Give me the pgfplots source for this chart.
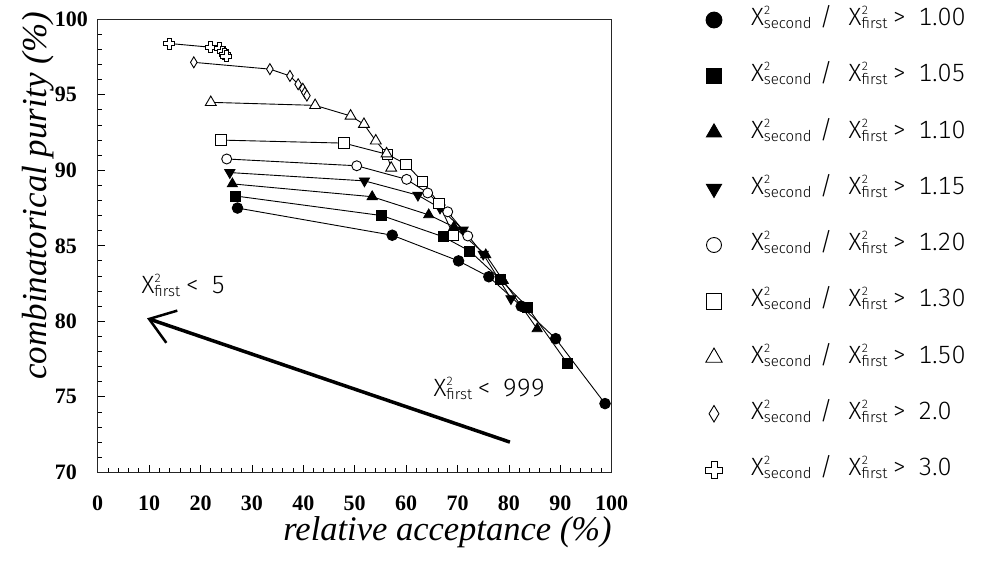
\documentclass[border=0pt]{standalone}
\usepackage{pgfplots}
\pgfplotsset{compat=1.18}
\usepackage{fontspec}
\setmainfont{Liberation Serif}
\newfontfamily\higz{Fira Sans Light}[Numbers=Monospaced]
\usetikzlibrary{arrows.meta}
\pgfdeclareplotmark{ocross}{%
  \pgfpathmoveto{\pgfqpoint{-0.36\pgfplotmarksize}{\pgfplotmarksize}}%
  \pgfpathlineto{\pgfqpoint{0.36\pgfplotmarksize}{\pgfplotmarksize}}%
  \pgfpathlineto{\pgfqpoint{0.36\pgfplotmarksize}{0.36\pgfplotmarksize}}%
  \pgfpathlineto{\pgfqpoint{\pgfplotmarksize}{0.36\pgfplotmarksize}}%
  \pgfpathlineto{\pgfqpoint{\pgfplotmarksize}{-0.36\pgfplotmarksize}}%
  \pgfpathlineto{\pgfqpoint{0.36\pgfplotmarksize}{-0.36\pgfplotmarksize}}%
  \pgfpathlineto{\pgfqpoint{0.36\pgfplotmarksize}{-\pgfplotmarksize}}%
  \pgfpathlineto{\pgfqpoint{-0.36\pgfplotmarksize}{-\pgfplotmarksize}}%
  \pgfpathlineto{\pgfqpoint{-0.36\pgfplotmarksize}{-0.36\pgfplotmarksize}}%
  \pgfpathlineto{\pgfqpoint{-\pgfplotmarksize}{-0.36\pgfplotmarksize}}%
  \pgfpathlineto{\pgfqpoint{-\pgfplotmarksize}{0.36\pgfplotmarksize}}%
  \pgfpathlineto{\pgfqpoint{-0.36\pgfplotmarksize}{0.36\pgfplotmarksize}}%
  \pgfpathclose
  \pgfusepathqfillstroke}
\pgfdeclareplotmark{odiamond}{%
  \pgfpathmoveto{\pgfqpoint{0pt}{\pgfplotmarksize}}%
  \pgfpathlineto{\pgfqpoint{0.6\pgfplotmarksize}{0pt}}%
  \pgfpathlineto{\pgfqpoint{0pt}{-\pgfplotmarksize}}%
  \pgfpathlineto{\pgfqpoint{-0.6\pgfplotmarksize}{0pt}}%
  \pgfpathclose
  \pgfusepathqfillstroke}
\newcommand\mainf{\higz\fontsize{25bp}{28bp}\selectfont}
\newcommand\subf{\higz\fontsize{15bp}{15bp}\selectfont}
\newcommand\supf{\higz\fontsize{12bp}{12bp}\selectfont}
\newcommand\XX[1]{X\rlap{\raisebox{11bp}{\supf 2}}\raisebox{-3bp}{\subf #1}}
\newcommand\rat[1]{\XX{second}\hspace{8bp}/\hspace{16bp}\XX{first}\hspace{5bp}>\hspace{12bp}#1}
\begin{document}
\begin{tikzpicture}
\begin{axis}[
  name=ax,
  scale only axis, width=514bp, height=453bp,
  xmin=0, xmax=100, ymin=70, ymax=100,
  xtick={0,10,...,100}, ytick={70,75,...,100},
  minor x tick num=4, minor y tick num=4,
  tick pos=left, tick align=inside,
  major tick length=7bp, minor tick length=4bp,
  axis line style={line width=1.2bp, black!85},
  tick style={line width=0.8bp, black},
  /pgf/number format/assume math mode=true,
  ticklabel style={font=\bfseries\fontsize{22bp}{22bp}\selectfont},
  xticklabel style={anchor=north, inner sep=0pt, yshift=-23bp},
  yticklabel style={anchor=west, inner sep=0pt, xshift=-43bp},
  xlabel={relative acceptance (\%)},
  ylabel={combinatorical purity (\%)},
  every axis x label/.style={at={(axis description cs:1,-0.1318)}, anchor=east, inner sep=0pt, font=\fontsize{34.5bp}{40bp}\selectfont\itshape},
  every axis y label/.style={at={(axis description cs:-0.11615,1.0161)}, rotate=90, anchor=east, inner sep=0pt, font=\fontsize{35bp}{40bp}\selectfont\itshape},
  legend image code/.code={\path[draw=none,fill=none] (-9bp,-9bp) rectangle (9bp,9bp); \draw[/tikz/every mark/.append style={scale=1.5}] plot[only marks] coordinates {(0bp,0bp)};},
  legend cell align=left,
  legend style={at={(axis description cs:1.18152,1.02384)}, anchor=north west, draw=none, fill=none, inner sep=0pt, outer sep=0pt, row sep=33.25bp, column sep=28bp, font=\mainf, nodes={inner sep=0pt, text height=17bp, text depth=6bp}},
]
\addplot[black, line width=0.9bp, mark=*, mark size=5.3bp, mark options={fill=black, draw=black, solid}] coordinates {
 (27.2,87.5) (57.3,85.7) (70.2,84.0) (76.1,82.95) (82.4,81.0) (89.1,78.85) (98.7,74.55)};
\addlegendentry{\rat{1.00}}
\addplot[black, line width=0.9bp, mark=square*, mark size=5.0bp, mark options={fill=black, draw=black, solid}] coordinates {
 (26.8,88.3) (55.3,87.0) (67.2,85.6) (72.4,84.65) (78.4,82.75) (83.7,80.9) (91.4,77.2)};
\addlegendentry{\rat{1.05}}
\addplot[black, line width=0.9bp, mark=triangle*, mark size=5.8bp, mark options={fill=black, draw=black, solid}] coordinates {
 (26.2,89.1) (53.4,88.25) (64.4,87.05) (69.3,86.25) (75.5,84.4) (78.9,82.7) (85.5,79.5)};
\addlegendentry{\rat{1.10}}
\addplot[black, line width=0.9bp, mark=triangle*, mark size=5.8bp, mark options={fill=black, draw=black, solid, rotate=180}] coordinates {
 (25.7,89.85) (51.9,89.3) (62.3,88.35) (66.6,87.5) (71.1,86.05) (75.0,84.45) (80.4,81.5)};
\addlegendentry{\rat{1.15}}
\addplot[black, line width=0.9bp, mark=*, mark size=5.0bp, mark options={fill=white, draw=black, solid}] coordinates {
 (25.1,90.75) (50.4,90.3) (60.1,89.4) (64.2,88.5) (68.1,87.25) (72.0,85.65)};
\addlegendentry{\rat{1.20}}
\addplot[black, line width=0.9bp, mark=square*, mark size=5.2bp, mark options={fill=white, draw=black, solid}] coordinates {
 (24.0,92.0) (47.9,91.8) (56.4,91.05) (60.0,90.4) (63.2,89.25) (66.4,87.8) (69.2,85.7)};
\addlegendentry{\rat{1.30}}
\addplot[black, line width=0.9bp, mark=triangle*, mark size=6.3bp, mark options={fill=white, draw=black, solid}] coordinates {
 (22.0,94.5) (42.3,94.3) (49.2,93.6) (51.8,93.05) (54.1,91.95) (56.2,91.1) (57.1,90.15)};
\addlegendentry{\rat{1.50}}
\addplot[black, line width=0.9bp, mark=odiamond, mark size=5.5bp, mark options={fill=white, draw=black, solid}] coordinates {
 (18.7,97.15) (33.5,96.7) (37.4,96.25) (39.0,95.7) (39.9,95.4) (40.3,95.15) (40.7,94.95)};
\addlegendentry{\rat{2.0}}
\addplot[black, line width=0.9bp, mark=ocross, mark size=5.5bp, mark options={fill=white, draw=black, solid}] coordinates {
 (13.9,98.4) (22.0,98.15) (23.7,98.1) (24.3,97.85) (24.7,97.7) (25.0,97.55)};
\addlegendentry{\rat{3.0}}
\draw[line width=3.5bp, -{Straight Barb[length=24bp, width=34bp, line width=2.5bp]}] (axis cs:80.2,72.0) -- (axis cs:9.6,80.2);
\node[anchor=base west, inner sep=0pt, font=\mainf] at (axis cs:8.5,81.85) {\XX{first}\hspace{5bp}<\hspace{12bp}5};
\node[anchor=base west, inner sep=0pt, font=\mainf] at (axis cs:65.3,75.0) {\XX{first}\hspace{5bp}<\hspace{12bp}999};
\end{axis}
\path ([shift={(-97.7bp,-92.7bp)}]ax.south west) rectangle ([shift={(889.3bp,472.3bp)}]ax.south west);
\end{tikzpicture}
\end{document}
